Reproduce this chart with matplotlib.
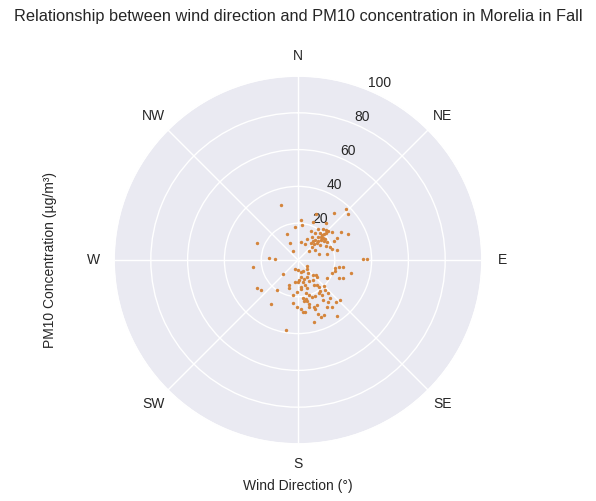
import numpy as np
import matplotlib
matplotlib.use("Agg")
import matplotlib.pyplot as plt
import seaborn as sns

# wind direction (degrees, clockwise from north) and PM10 (ug/m3)
wind_dir = [343, 43, 47, 38, 21, 5, 22, 37,
            355, 6, 336, 24, 33, 39, 43, 46,
            51, 57, 62, 33, 40, 44, 46, 46,
            31, 40, 45, 49, 53, 61, 24, 37,
            41, 47, 49, 53, 58, 63, 293, 335,
            11, 23, 38, 45, 48, 46, 55, 63,
            68, 72, 332, 53, 59, 74, 78, 76,
            89, 89, 273, 272, 261, 197, 124, 133,
            180, 167, 154, 143, 226, 135, 130, 102,
            100, 99, 106, 111, 104, 169, 163, 152,
            178, 168, 187, 180, 151, 144, 132, 121,
            114, 112, 148, 142, 142, 164, 200, 198,
            235, 231, 215, 173, 174, 162, 135, 138,
            144, 147, 138, 155, 167, 163, 159, 182,
            188, 173, 168, 172, 167, 146, 140, 134,
            138, 148, 144, 166, 167, 157, 161, 161,
            149, 144, 186, 211, 181, 177, 175, 172,
            160, 155, 158, 145, 166, 190]
pm10 = [31.2, 38.2, 36.9, 32.1, 26.8, 21.6, 22.3, 25.5,
        17.8, 19.3, 15.3, 17.2, 20.3, 21.5, 22.2, 22.9,
        24.1, 27.9, 30.5, 17.3, 18.8, 18.7, 20.0, 21.5,
        14.8, 16.5, 17.3, 18.1, 18.6, 24.4, 12.3, 13.2,
        14.4, 14.9, 16.7, 17.6, 18.9, 22.2, 24.1, 10.0,
        9.8, 9.4, 11.9, 12.3, 13.6, 10.4, 14.4, 16.9,
        18.7, 19.4, 5.3, 7.8, 10.6, 12.0, 16.3, 22.0,
        35.5, 37.5, 15.6, 12.3, 24.6, 5.1, 6.1, 6.9,
        5.6, 6.5, 6.6, 9.1, 11.1, 11.8, 12.9, 20.8,
        22.8, 25.0, 21.2, 19.8, 29.9, 9.6, 11.0, 10.7,
        10.9, 12.2, 12.0, 12.0, 12.8, 13.5, 14.1, 18.5,
        24.6, 26.2, 16.3, 17.0, 18.3, 14.3, 14.7, 16.0,
        26.9, 26.1, 19.8, 15.0, 16.0, 16.0, 20.0, 22.1,
        20.7, 21.2, 24.4, 21.6, 18.2, 20.1, 21.3, 17.4,
        19.4, 20.8, 21.5, 22.7, 22.7, 23.2, 27.3, 31.5,
        30.9, 25.5, 28.1, 24.6, 26.0, 26.8, 27.2, 28.3,
        30.1, 31.4, 23.7, 28.1, 25.7, 26.9, 28.4, 28.5,
        31.3, 33.1, 33.6, 37.2, 35.0, 38.8]

compass = ["N", "NE", "E", "SE", "S", "SW", "W", "NW"]
compass_deg = [0, 45, 90, 135, 180, 225, 270, 315]
r_ticks = [20, 40, 60, 80, 100]

sns.set_theme(style="darkgrid")
plt.rcParams['font.family'] = ['Liberation Sans', 'DejaVu Sans']

fig = plt.figure(figsize=(5.96, 5.01), dpi=100)
ax = fig.add_axes([0.1913, 0.1138, 0.6174, 0.7345], projection='polar')
ax.set_theta_zero_location('N')
ax.set_theta_direction(-1)

ax.scatter(np.radians(wind_dir), pm10, s=6, color='#d4853c', linewidths=0, zorder=3)

ax.set_ylim(0, 100)
ax.set_yticks(r_ticks)
ax.set_yticklabels([str(t) for t in r_ticks], fontsize=10)
ax.set_xticks(np.radians(compass_deg))
ax.set_xticklabels(compass, fontsize=10)
ax.tick_params(axis='x', pad=1.5)

ax.set_title("Relationship between wind direction and PM10 concentration in Morelia in Fall",
             fontsize=11.8, y=1.15, pad=0)
ax.set_xlabel("Wind Direction (°)", fontsize=10)
ax.set_ylabel("PM10 Concentration (µg/m³)", fontsize=10)
ax.xaxis.set_label_coords(0.5, -0.095)
ax.yaxis.set_label_coords(-0.155, 0.5)

fig.savefig("out.png", dpi=100)
